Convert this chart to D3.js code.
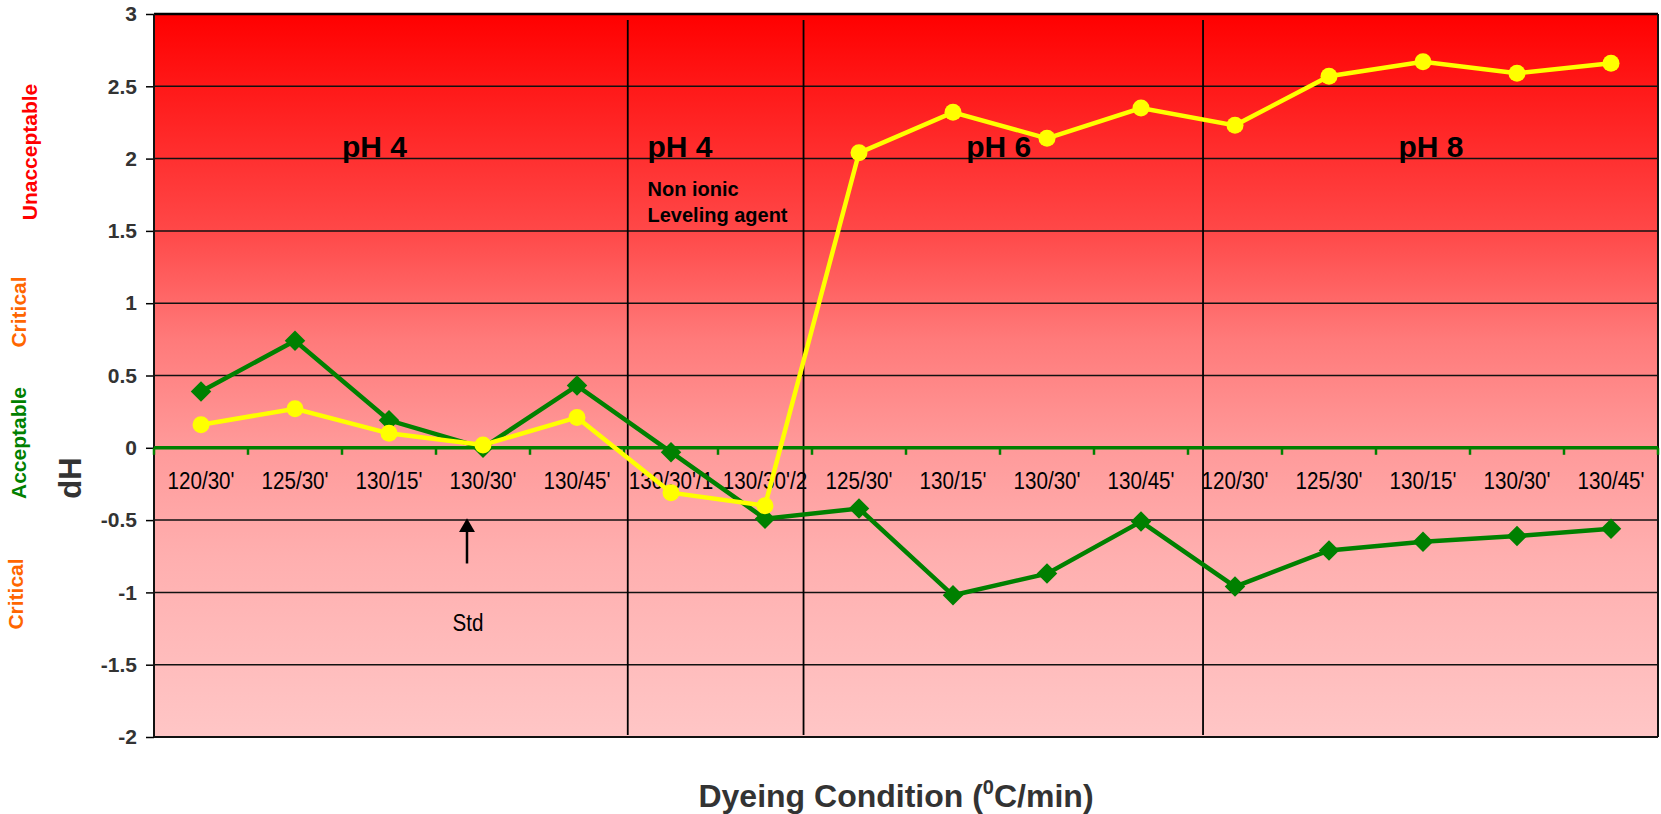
<!DOCTYPE html>
<html>
<head>
<meta charset="utf-8">
<script src="https://d3js.org/d3.v7.min.js"></script>
<style>
  body { margin: 0; background: #fff; }
  text { font-family: "Liberation Sans", Arial, sans-serif; }
</style>
</head>
<body>
<svg id="vis"></svg>
<script>
  var width = 1661
  var height = 814
  var plotLeft = 154, plotRight = 1658, plotTop = 14, plotBottom = 737

  // data
  var categories = ["120/30'", "125/30'", "130/15'", "130/30'", "130/45'", "130/30'/1", "130/30'/2",
                    "125/30'", "130/15'", "130/30'", "130/45'",
                    "120/30'", "125/30'", "130/15'", "130/30'", "130/45'"]
  var greenValues = [0.39, 0.74, 0.19, 0.0, 0.43, -0.03, -0.49, -0.42, -1.02, -0.87, -0.51, -0.96, -0.71, -0.65, -0.61, -0.56]
  var yellowValues = [0.16, 0.27, 0.10, 0.02, 0.21, -0.31, -0.40, 2.04, 2.32, 2.14, 2.35, 2.23, 2.57, 2.67, 2.59, 2.66]
  var yTicks = [-2, -1.5, -1, -0.5, 0, 0.5, 1, 1.5, 2, 2.5, 3]

  // group separators and notes, x in category units, y in dH units
  var dividers = [5.04, 6.91, 11.16]
  var groupLabels = [
    {text: "pH 4", x: 2.0, y: 2.01},
    {text: "pH 4", x: 5.25, y: 2.01},
    {text: "pH 6", x: 8.64, y: 2.01},
    {text: "pH 8", x: 13.24, y: 2.01}
  ]
  var noteLines = [
    {text: "Non ionic", x: 5.25, y: 1.74},
    {text: "Leveling agent", x: 5.25, y: 1.565}
  ]
  var zoneLabels = [
    {text: "Unacceptable", color: "#ff0000", x: 37, y: 152},
    {text: "Critical", color: "#ff6600", x: 26, y: 312},
    {text: "Acceptable", color: "#008000", x: 26, y: 443},
    {text: "Critical", color: "#ff6600", x: 23, y: 594}
  ]

  var svg = d3.select('#vis')
    .attr('width', width)
    .attr('height', height)

  var x = d3.scaleBand().domain(d3.range(categories.length)).range([plotLeft, plotRight])
  var xu = d3.scaleLinear().domain([0, categories.length]).range([plotLeft, plotRight])
  var y = d3.scaleLinear().domain([-2, 3]).range([plotBottom, plotTop])

  // background gradient
  var grad = svg.append('defs').append('linearGradient')
    .attr('id', 'bg').attr('x1', 0).attr('y1', 0).attr('x2', 0).attr('y2', 1)
  var stops = [[0, '#ff0000'], [0.3, '#ff4848'], [0.45, '#ff7a7a'], [0.6, '#ff9a9a'], [0.75, '#ffafaf'], [1, '#ffc6c6']]
  grad.selectAll('stop').data(stops).enter().append('stop')
    .attr('offset', d => d[0]).attr('stop-color', d => d[1])

  svg.append('rect')
    .attr('x', plotLeft).attr('y', plotTop)
    .attr('width', plotRight - plotLeft).attr('height', plotBottom - plotTop)
    .attr('fill', 'url(#bg)')

  // horizontal gridlines
  svg.selectAll('.grid')
    .data(yTicks.filter(d => d != 0 && d != 3 && d != -2))
    .enter().append('line')
    .attr('x1', plotLeft).attr('x2', plotRight)
    .attr('y1', d => y(d)).attr('y2', d => y(d))
    .attr('stroke', '#111').attr('stroke-width', 1.5)

  // vertical separators
  svg.selectAll('.div')
    .data(dividers)
    .enter().append('line')
    .attr('x1', d => xu(d)).attr('x2', d => xu(d))
    .attr('y1', plotTop + 6).attr('y2', plotBottom - 2)
    .attr('stroke', '#000').attr('stroke-width', 1.8)

  // y axis
  var yAxis = d3.axisLeft(y).tickValues(yTicks).tickSize(8).tickFormat(d => String(d))
  var yg = svg.append('g').attr('transform', 'translate(' + plotLeft + ',0)').call(yAxis)
  yg.select('.domain').remove()
  yg.selectAll('.tick line').attr('stroke', '#000').attr('stroke-width', 1.5)
  yg.selectAll('.tick text')
    .attr('x', -17)
    .style('font-size', '21px').style('font-weight', 'bold')
    .style('font-family', '"Liberation Sans", Arial, sans-serif')
    .attr('fill', '#333')

  // border
  svg.append('line').attr('x1', plotLeft).attr('x2', plotRight).attr('y1', plotTop).attr('y2', plotTop)
    .attr('stroke', '#000').attr('stroke-width', 2.5)
  svg.append('line').attr('x1', plotLeft).attr('x2', plotRight).attr('y1', plotBottom).attr('y2', plotBottom)
    .attr('stroke', '#111').attr('stroke-width', 2)
  svg.append('line').attr('x1', plotLeft).attr('x2', plotLeft).attr('y1', plotTop).attr('y2', plotBottom)
    .attr('stroke', '#111').attr('stroke-width', 2)
  svg.append('line').attr('x1', plotRight).attr('x2', plotRight).attr('y1', plotTop).attr('y2', plotBottom)
    .attr('stroke', '#111').attr('stroke-width', 2)

  // x axis on zero line (green)
  svg.append('line')
    .attr('x1', plotLeft).attr('x2', plotRight)
    .attr('y1', y(0)).attr('y2', y(0))
    .attr('stroke', '#008000').attr('stroke-width', 3.5)
  svg.selectAll('.xt')
    .data(d3.range(categories.length + 1))
    .enter().append('line')
    .attr('x1', d => xu(d)).attr('x2', d => xu(d))
    .attr('y1', y(0)).attr('y2', y(0) + 7)
    .attr('stroke', '#008000').attr('stroke-width', 2.5)

  // condensed category labels
  svg.selectAll('.xl')
    .data(categories)
    .enter().append('text')
    .attr('transform', (d, i) => 'translate(' + (x(i) + x.bandwidth() / 2) + ',' + (y(0) + 41) + ') scale(0.86,1)')
    .attr('text-anchor', 'middle')
    .style('font-size', '24px')
    .attr('fill', '#000')
    .text(d => d)

  // series
  var line = d3.line().x((d, i) => x(i) + x.bandwidth() / 2).y(d => y(d))

  svg.append('path').datum(greenValues)
    .attr('d', line).attr('fill', 'none')
    .attr('stroke', '#008000').attr('stroke-width', 4.5)
  svg.selectAll('.gm')
    .data(greenValues)
    .enter().append('path')
    .attr('d', d3.symbol().type(d3.symbolSquare).size(210))
    .attr('transform', (d, i) => 'translate(' + (x(i) + x.bandwidth() / 2) + ',' + y(d) + ') rotate(45)')
    .attr('fill', '#008000')

  svg.append('path').datum(yellowValues)
    .attr('d', line).attr('fill', 'none')
    .attr('stroke', '#ffff00').attr('stroke-width', 4.5)
  svg.selectAll('.ym')
    .data(yellowValues)
    .enter().append('circle')
    .attr('cx', (d, i) => x(i) + x.bandwidth() / 2)
    .attr('cy', d => y(d))
    .attr('r', 8.5)
    .attr('fill', '#ffff00')

  // group labels
  svg.selectAll('.gl')
    .data(groupLabels)
    .enter().append('text')
    .attr('x', d => xu(d.x)).attr('y', d => y(d.y))
    .style('font-size', '30px').style('font-weight', 'bold')
    .attr('fill', '#000')
    .text(d => d.text)

  svg.selectAll('.nl')
    .data(noteLines)
    .enter().append('text')
    .attr('x', d => xu(d.x)).attr('y', d => y(d.y))
    .style('font-size', '20px').style('font-weight', 'bold')
    .attr('fill', '#000')
    .text(d => d.text)

  // Std arrow
  var ax = x(3) + x.bandwidth() / 2 - 16
  svg.append('line')
    .attr('x1', ax).attr('x2', ax).attr('y1', y(-0.57)).attr('y2', y(-0.80))
    .attr('stroke', '#000').attr('stroke-width', 2.5)
  svg.append('path')
    .attr('d', d3.symbol().type(d3.symbolTriangle).size(110))
    .attr('transform', 'translate(' + ax + ',' + y(-0.55) + ')')
    .attr('fill', '#000')
  svg.append('text')
    .attr('transform', 'translate(' + (ax + 1) + ',' + y(-1.27) + ') scale(0.86,1)')
    .attr('text-anchor', 'middle')
    .style('font-size', '24px')
    .text('Std')

  // zone labels on the left
  svg.selectAll('.zl')
    .data(zoneLabels)
    .enter().append('text')
    .attr('transform', d => 'translate(' + d.x + ',' + d.y + ') rotate(-90)')
    .attr('text-anchor', 'middle')
    .style('font-size', '21px').style('font-weight', 'bold')
    .attr('fill', d => d.color)
    .text(d => d.text)

  // axis titles
  svg.append('text')
    .attr('transform', 'translate(81,' + 478 + ') rotate(-90)')
    .attr('text-anchor', 'middle')
    .style('font-size', '31px').style('font-weight', 'bold')
    .attr('fill', '#333')
    .text('dH')

  var title = svg.append('text')
    .attr('x', (plotLeft + plotRight) / 2 - 10).attr('y', 807)
    .attr('text-anchor', 'middle')
    .style('font-size', '32px').style('font-weight', 'bold')
    .attr('fill', '#333')
  title.append('tspan').text('Dyeing Condition (')
  title.append('tspan').attr('dy', -13).style('font-size', '20px').text('0')
  title.append('tspan').attr('dy', 13).text('C/min)')
</script>
</body>
</html>
